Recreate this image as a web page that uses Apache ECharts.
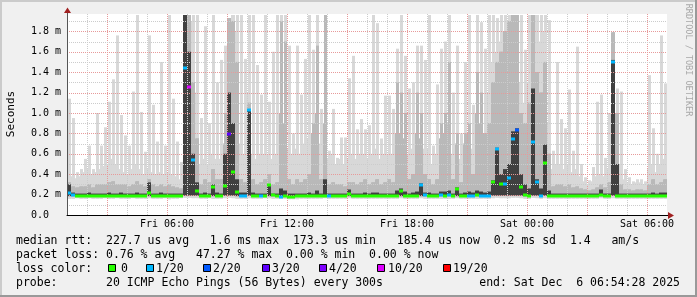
<!DOCTYPE html>
<html><head><meta charset="utf-8">
<script src="https://cdn.jsdelivr.net/npm/echarts@6/dist/echarts.min.js"></script>
<style>html,body{margin:0;padding:0;background:#f0f0f0;}#c{width:697px;height:297px;}</style>
</head><body><div id="c"></div>
<script>
// ---- time axis (minutes since Fri 00:00) ----
const startMinute = 60;
const endMinute = 1860;
const stepMinutes = 12;
const xLabelMinutes = [360, 720, 1080, 1440, 1800];
const xLabels = ['Fri 06:00', 'Fri 12:00', 'Fri 18:00', 'Sat 00:00', 'Sat 06:00'];
const yMax = 1.97;
const yLabelValues = [0, 0.2, 0.4, 0.6, 0.8, 1.0, 1.2, 1.4, 1.6, 1.8];
const yLabels = ['0.0', '0.2 m', '0.4 m', '0.6 m', '0.8 m', '1.0 m', '1.2 m', '1.4 m', '1.6 m', '1.8 m'];

// ---- smoke (ms), one value per 12-minute column ----
// highest ping (light spikes)
const smokeTop = [
 1.14,0.95,0.42,0.45,0.55,0.68,0.45,1.00,0.68,0.86,
 1.11,1.33,1.76,0.98,0.78,0.68,1.21,1.96,1.01,0.62,
 1.76,1.08,0.72,1.50,0.68,1.96,1.14,0.72,0.52,1.96,
 1.96,1.96,1.96,0.95,1.85,0.90,1.96,1.30,1.52,1.66,
 1.93,1.96,1.96,1.96,1.53,1.96,1.96,1.47,1.18,1.96,
 1.11,1.60,1.96,1.96,1.96,1.66,0.80,1.66,1.18,1.53,
 1.96,1.62,1.96,1.04,1.96,0.63,1.04,0.56,0.76,0.76,
 1.34,1.56,0.84,0.94,0.84,0.88,1.96,1.88,0.75,1.17,
 1.17,1.04,1.63,1.96,1.56,1.24,1.30,1.66,1.66,1.52,
 1.96,0.68,1.28,1.63,1.70,1.96,1.20,1.66,0.80,1.50,
 1.96,1.08,1.96,1.89,1.63,1.96,1.96,1.93,1.96,1.96,
 1.96,1.96,1.96,1.96,1.62,1.96,1.96,1.96,1.96,1.96,
 1.91,0.63,1.50,0.94,0.85,1.23,0.63,1.65,0.50,0.37,
 0.34,0.47,1.11,1.18,0.56,1.00,1.79,1.24,1.21,0.45,
 0.37,0.33,0.35,0.35,0.33,1.37,0.85,0.60,1.76,1.29];
// level up to which the whole column is covered by light smoke
const smokeFill = [
 0.45,0.38,0.36,0.38,0.42,0.45,0.40,0.42,0.45,0.48,
 0.50,0.55,0.50,0.45,0.42,0.40,0.45,0.50,0.45,0.40,
 0.45,0.42,0.40,0.42,0.40,0.42,0.40,0.38,0.35,1.96,
 1.96,1.90,1.20,0.50,0.55,0.50,0.60,0.55,0.55,0.70,
 1.93,1.96,1.80,0.70,0.60,1.20,0.60,0.55,0.60,0.60,
 0.60,0.55,0.60,1.00,0.90,0.65,0.60,0.65,0.60,0.70,
 0.75,0.80,1.00,0.70,0.90,0.55,0.60,0.50,0.55,0.50,
 0.55,0.60,0.55,0.60,0.60,0.55,0.60,0.65,0.55,0.60,
 0.60,0.60,0.80,0.80,0.75,0.60,0.65,0.80,0.75,0.65,
 0.65,0.50,0.60,0.75,0.80,0.90,0.60,0.70,0.55,0.70,
 0.80,0.65,1.00,0.90,0.80,1.20,1.50,1.60,1.70,1.80,
 1.90,1.96,1.96,1.30,1.10,1.30,1.96,1.96,1.70,1.80,
 0.90,0.45,0.50,0.50,0.45,0.50,0.42,0.45,0.38,0.33,
 0.30,0.33,0.38,0.40,0.38,0.45,1.79,1.00,0.50,0.35,
 0.32,0.30,0.32,0.32,0.30,0.45,0.50,0.42,0.50,0.55];
// medium-grey smoke top
const smokeMid = [
 0.32,0.28,0.27,0.28,0.28,0.30,0.27,0.30,0.30,0.30,
 0.32,0.33,0.30,0.30,0.30,0.28,0.30,0.33,0.30,0.28,
 0.35,0.30,0.28,0.30,0.28,0.30,0.28,0.27,0.26,1.96,
 1.96,1.30,0.75,0.30,0.35,0.32,0.45,0.35,0.35,1.00,
 1.93,1.90,1.50,0.35,0.32,1.10,0.35,0.30,0.32,0.35,
 0.40,0.30,0.32,1.90,1.70,0.35,0.30,0.35,0.32,0.35,
 0.40,0.90,1.66,0.35,1.96,0.30,0.32,0.30,0.30,0.28,
 0.32,0.32,0.30,0.32,0.35,0.30,0.32,0.35,0.30,0.32,
 0.35,0.32,1.30,1.20,1.00,0.35,0.40,1.20,1.00,0.40,
 0.35,0.30,0.35,0.90,1.00,1.50,0.35,0.80,0.32,0.80,
 0.90,0.40,1.40,1.20,0.80,0.90,1.30,1.50,1.60,1.80,
 1.90,1.96,1.96,1.00,0.90,1.10,1.96,1.40,1.20,1.50,
 0.60,0.28,0.30,0.30,0.28,0.30,0.27,0.28,0.26,0.25,
 0.24,0.25,0.27,0.30,0.27,0.32,1.79,1.00,0.30,0.25,
 0.25,0.24,0.25,0.25,0.24,0.30,0.35,0.30,0.32,0.35];
// dark core top
const smokeDark = [
 0.30,0.22,0.21,0.21,0.21,0.22,0.21,0.21,0.21,0.21,
 0.22,0.21,0.21,0.22,0.21,0.21,0.21,0.22,0.21,0.21,
 0.32,0.21,0.21,0.22,0.21,0.21,0.21,0.21,0.21,1.96,
 1.60,0.60,0.32,0.21,0.22,0.21,0.30,0.22,0.21,0.60,
 1.20,0.90,0.35,0.22,0.22,1.03,0.22,0.21,0.21,0.21,
 0.30,0.21,0.21,0.26,0.24,0.21,0.21,0.21,0.21,0.21,
 0.22,0.21,0.24,0.21,0.35,0.21,0.21,0.21,0.21,0.21,
 0.25,0.21,0.21,0.21,0.22,0.21,0.22,0.22,0.21,0.21,
 0.21,0.21,0.24,0.26,0.23,0.21,0.22,0.23,0.31,0.22,
 0.22,0.21,0.21,0.23,0.23,0.24,0.21,0.27,0.21,0.22,
 0.23,0.22,0.24,0.23,0.22,0.23,0.34,0.66,0.40,0.45,
 0.50,0.82,0.85,0.40,0.30,0.26,1.24,0.35,0.26,0.69,
 0.24,0.21,0.21,0.21,0.21,0.21,0.21,0.21,0.21,0.21,
 0.21,0.21,0.21,0.25,0.21,0.21,1.52,0.50,0.21,0.21,
 0.21,0.21,0.21,0.21,0.21,0.21,0.22,0.21,0.22,0.22];
// bottom of the dense smoke core
const smokeCore = [
 0.185,0.185,0.185,0.185,0.185,0.185,0.185,0.185,0.185,0.185,
 0.185,0.185,0.185,0.185,0.185,0.185,0.185,0.185,0.185,0.185,
 0.185,0.185,0.185,0.185,0.185,0.18,0.185,0.185,0.185,0.19,
 0.19,0.19,0.19,0.185,0.185,0.185,0.185,0.185,0.185,0.19,
 0.19,0.19,0.185,0.185,0.185,0.19,0.185,0.185,0.185,0.185,
 0.185,0.185,0.185,0.18,0.185,0.18,0.18,0.18,0.185,0.185,
 0.185,0.185,0.185,0.185,0.185,0.185,0.185,0.185,0.185,0.185,
 0.185,0.185,0.185,0.185,0.185,0.185,0.185,0.185,0.185,0.185,
 0.185,0.185,0.185,0.185,0.185,0.185,0.185,0.185,0.185,0.185,
 0.185,0.185,0.185,0.185,0.185,0.185,0.185,0.185,0.185,0.185,
 0.185,0.185,0.185,0.185,0.185,0.185,0.19,0.19,0.19,0.19,
 0.19,0.19,0.19,0.19,0.185,0.185,0.19,0.19,0.185,0.19,
 0.185,0.185,0.185,0.185,0.185,0.185,0.185,0.185,0.185,0.185,
 0.185,0.185,0.185,0.185,0.185,0.185,0.19,0.185,0.185,0.185,
 0.185,0.185,0.185,0.185,0.185,0.185,0.185,0.185,0.185,0.185];
// lowest ping
const smokeLow = [
 0.16,0.16,0.165,0.16,0.16,0.165,0.16,0.16,0.16,0.165,
 0.16,0.16,0.165,0.16,0.16,0.16,0.165,0.16,0.16,0.16,
 0.165,0.16,0.16,0.16,0.165,0.155,0.16,0.16,0.165,0.17,
 0.17,0.165,0.165,0.16,0.16,0.165,0.16,0.16,0.16,0.165,
 0.17,0.165,0.16,0.16,0.16,0.165,0.16,0.16,0.16,0.165,
 0.165,0.16,0.16,0.16,0.16,0.155,0.155,0.155,0.16,0.16,
 0.16,0.16,0.16,0.16,0.165,0.16,0.16,0.16,0.16,0.16,
 0.165,0.16,0.16,0.16,0.16,0.16,0.16,0.16,0.16,0.16,
 0.16,0.16,0.16,0.165,0.16,0.16,0.16,0.16,0.165,0.16,
 0.16,0.16,0.16,0.16,0.16,0.16,0.16,0.165,0.16,0.16,
 0.16,0.16,0.16,0.16,0.16,0.16,0.165,0.17,0.165,0.165,
 0.165,0.17,0.17,0.165,0.16,0.16,0.17,0.165,0.16,0.165,
 0.16,0.16,0.16,0.16,0.16,0.16,0.16,0.16,0.16,0.16,
 0.16,0.16,0.16,0.165,0.16,0.16,0.165,0.16,0.16,0.16,
 0.16,0.16,0.16,0.16,0.16,0.16,0.16,0.16,0.16,0.16];
const medianRtt = [
 0.22,0.20,0.19,0.19,0.19,0.19,0.19,0.19,0.19,0.19,
 0.19,0.19,0.19,0.19,0.19,0.19,0.19,0.19,0.19,0.19,
 0.22,0.19,0.19,0.19,0.19,0.185,0.19,0.19,0.19,1.44,
 1.25,0.54,0.24,0.19,0.19,0.19,0.27,0.19,0.19,0.28,
 0.79,0.42,0.23,0.19,0.19,1.03,0.19,0.19,0.19,0.19,
 0.29,0.20,0.19,0.18,0.19,0.18,0.18,0.185,0.19,0.19,
 0.19,0.19,0.19,0.19,0.19,0.19,0.19,0.19,0.19,0.19,
 0.21,0.19,0.19,0.19,0.19,0.19,0.19,0.19,0.19,0.19,
 0.19,0.19,0.19,0.24,0.19,0.19,0.19,0.19,0.29,0.20,
 0.19,0.19,0.19,0.20,0.19,0.20,0.19,0.25,0.19,0.19,
 0.19,0.19,0.20,0.19,0.19,0.19,0.32,0.65,0.30,0.30,
 0.36,0.74,0.83,0.27,0.20,0.19,0.72,0.32,0.19,0.51,
 0.19,0.19,0.19,0.19,0.19,0.19,0.19,0.19,0.19,0.19,
 0.19,0.19,0.19,0.20,0.19,0.19,1.50,0.19,0.19,0.19,
 0.19,0.19,0.19,0.19,0.19,0.19,0.19,0.19,0.19,0.19];
const lostPings = [
 1,1,0,0,0,0,0,0,0,0,
 0,0,0,0,0,0,0,0,0,0,
 0,0,0,0,0,0,0,0,0,1,
 10,1,0,0,0,0,0,0,0,0,
 3,0,0,1,1,1,0,0,1,0,
 0,0,0,1,0,0,0,0,0,0,
 0,0,0,0,0,1,0,0,0,0,
 0,0,0,0,0,0,0,0,0,0,
 0,0,0,0,0,0,0,0,1,1,
 0,0,0,1,0,1,0,0,0,0,
 1,1,0,1,1,1,0,1,0,1,
 1,1,2,0,0,0,1,1,1,0,
 0,0,0,0,0,0,0,0,0,0,
 0,0,0,0,0,0,1,0,0,0,
 0,0,0,0,0,0,0,0,0,0];

// ---- legend ----
const lossCounts = [0, 1, 2, 3, 4, 10, 19];
const lossLabels = ['0', '1/20', '2/20', '3/20', '4/20', '10/20', '19/20'];
const lossColors = ['#26ff00', '#00b8ff', '#0059ff', '#5e00ff', '#7e00ff', '#dd00ff', '#ff0000'];
const legendLines = [
  'median rtt:  227.7 us avg   1.6 ms max  173.3 us min   185.4 us now  0.2 ms sd  1.4   am/s',
  'packet loss: 0.76 % avg   47.27 % max  0.00 % min  0.00 % now',
  'loss color:',
  'probe:       20 ICMP Echo Pings (56 Bytes) every 300s'
];
const endText = 'end: Sat Dec  6 06:54:28 2025';

// ---- styles / layout ----
const MONO = '"DejaVu Sans Mono", monospace';
const C_LIGHT = '#d8d8d8', C_MID = '#b9b9b9', C_DARK = '#404040';
const GRID_MINOR = '#cccccc', GRID_MAJOR = '#e79a9a';
const legendY = [241, 255.5, 269, 283];
const boxX = [108, 146, 203, 262, 319, 377, 443];
const boxLabelX = [121, 156, 213, 272, 329, 388, 453];

function lossColor(n) {
  let c = lossColors[0];
  for (let i = 0; i < lossCounts.length; i++) if (n >= lossCounts[i]) c = lossColors[i];
  return c;
}

const smokeData = smokeTop.map((v, i) => [startMinute + i * stepMinutes, smokeLow[i], smokeCore[i], smokeDark[i], smokeMid[i], smokeFill[i], v]);
const medianData = medianRtt.map((v, i) => [startMinute + i * stepMinutes, v, lostPings[i]]);
const vGrid = [];
for (let m = startMinute + 60; m < endMinute; m += 60) vGrid.push([m, 0, m % 180 === 0 ? 1 : 0]);
const hGrid = [];
for (let k = 1; k <= 19; k++) hGrid.push([startMinute, k / 10, k % 2 === 0 ? 1 : 0]);

function renderSmoke(params, api) {
  const t = api.value(0);
  const x = api.coord([t, 0])[0];
  const w = api.coord([t + stepMinutes, 0])[0] - x;
  const Y = v => api.coord([t, v])[1];
  const r = (a, b, fill, narrow) => ({ type: 'rect',
    shape: { x: narrow ? x + 1 : x, y: Y(b), width: narrow ? w - 1 : w, height: Y(a) - Y(b) },
    style: { fill: fill } });
  const low = api.value(1), core = api.value(2), dark = api.value(3), mid = api.value(4), fill = api.value(5), top = api.value(6);
  return { type: 'group', children: [
    r(low, fill, C_LIGHT, false),
    r(low, top, C_LIGHT, true),
    r(core, Math.min(mid, fill), C_MID, false),
    r(core, mid, C_MID, true),
    r(core, dark, C_DARK, false)
  ] };
}
function renderMedian(params, api) {
  const t = api.value(0);
  const x = api.coord([t, 0])[0];
  const w = api.coord([t + stepMinutes, 0])[0] - x;
  const y = api.coord([t, api.value(1)])[1];
  return { type: 'rect', shape: { x: x, y: Math.round(y) - 1.5, width: w, height: 3 }, style: { fill: lossColor(api.value(2)) } };
}
function renderVGrid(params, api) {
  const cs = params.coordSys;
  const x = Math.round(api.coord([api.value(0), 0])[0]) + 0.5;
  return { type: 'line', shape: { x1: x, y1: cs.y, x2: x, y2: cs.y + cs.height }, style: { stroke: api.value(2) ? GRID_MAJOR : GRID_MINOR, lineWidth: 1, lineDash: [1, 1] } };
}
function renderHGrid(params, api) {
  const cs = params.coordSys;
  const y = Math.round(api.coord([startMinute, api.value(1)])[1]) + 0.5;
  return { type: 'line', shape: { x1: cs.x, y1: y, x2: cs.x + cs.width, y2: y }, style: { stroke: api.value(2) ? GRID_MAJOR : GRID_MINOR, lineWidth: 1, lineDash: [1, 1] } };
}

const graphics = [
  { type: 'rect', shape: { x: 0, y: 0, width: 697, height: 2 }, style: { fill: '#cbcbcb' }, silent: true },
  { type: 'rect', shape: { x: 0, y: 0, width: 2, height: 297 }, style: { fill: '#cbcbcb' }, silent: true },
  { type: 'rect', shape: { x: 0, y: 295, width: 697, height: 2 }, style: { fill: '#999999' }, silent: true },
  { type: 'rect', shape: { x: 695, y: 0, width: 2, height: 297 }, style: { fill: '#999999' }, silent: true },
  { type: 'line', shape: { x1: 67.5, y1: 14, x2: 67.5, y2: 10 }, style: { stroke: '#555', lineWidth: 1 }, silent: true },
  { type: 'polygon', shape: { points: [[64, 13], [71, 13], [67.5, 7.5]] }, style: { fill: '#a02020' }, silent: true },
  { type: 'line', shape: { x1: 667, y1: 215.5, x2: 669, y2: 215.5 }, style: { stroke: '#000', lineWidth: 1 }, silent: true },
  { type: 'polygon', shape: { points: [[668, 212], [668, 219], [674, 215.5]] }, style: { fill: '#a02020' }, silent: true },
  { type: 'text', x: 11, y: 114, rotation: Math.PI / 2, style: { text: 'Seconds', font: '11px ' + MONO, fill: '#000', align: 'center', verticalAlign: 'middle', textAlign: 'center', textVerticalAlign: 'middle' }, silent: true },
  { type: 'text', x: 688, y: 60, rotation: -Math.PI / 2, style: { text: 'RRDTOOL / TOBI OETIKER', font: '8.5px ' + MONO, fill: '#a8a8a8', align: 'center', verticalAlign: 'middle', textAlign: 'center', textVerticalAlign: 'middle' }, silent: true }
];
legendLines.forEach((t, i) => graphics.push({ type: 'text', x: 16, y: legendY[i], style: { text: t, font: '11.5px ' + MONO, fill: '#000', align: 'left', verticalAlign: 'middle', textAlign: 'left', textVerticalAlign: 'middle' }, silent: true }));
graphics.push({ type: 'text', x: 680, y: legendY[3], style: { text: endText, font: '11.5px ' + MONO, fill: '#000', align: 'right', verticalAlign: 'middle', textAlign: 'right', textVerticalAlign: 'middle' }, silent: true });
lossLabels.forEach((lab, i) => {
  graphics.push({ type: 'rect', shape: { x: boxX[i] + 0.5, y: 264.5, width: 7, height: 7 }, style: { fill: lossColors[i], stroke: '#000', lineWidth: 1 }, silent: true });
  graphics.push({ type: 'text', x: boxLabelX[i], y: legendY[2], style: { text: lab, font: '11.5px ' + MONO, fill: '#000', align: 'left', verticalAlign: 'middle', textAlign: 'left', textVerticalAlign: 'middle' }, silent: true });
});

const chart = echarts.init(document.getElementById('c'), null, { renderer: 'canvas' });
chart.setOption({
  animation: false,
  backgroundColor: '#f0f0f0',
  grid: { left: 67, top: 14, width: 600, height: 201, show: true, backgroundColor: '#ffffff', borderWidth: 0 },
  xAxis: {
    type: 'value', min: startMinute, max: endMinute, interval: 60, z: 5,
    axisLine: { show: true, lineStyle: { color: '#000', width: 1 } },
    axisTick: { show: false }, splitLine: { show: false },
    axisLabel: { margin: 4, fontFamily: MONO, fontSize: 10, color: '#000',
      formatter: v => { const i = xLabelMinutes.indexOf(Math.round(v)); return i >= 0 ? xLabels[i] : ''; } }
  },
  yAxis: {
    type: 'value', min: 0, max: yMax, interval: 0.2, z: 5,
    axisLine: { show: true, lineStyle: { color: '#555', width: 1 } },
    axisTick: { show: false }, splitLine: { show: false },
    axisLabel: { margin: 36, align: 'left', fontFamily: MONO, fontSize: 10, color: '#000',
      formatter: v => { const i = yLabelValues.findIndex(y => Math.abs(y - v) < 1e-6); return i >= 0 ? yLabels[i] : ''; } }
  },
  series: [
    { type: 'custom', name: 'smoke', renderItem: renderSmoke, data: smokeData, encode: { x: 0, y: 6 }, z: 2, clip: true, silent: true },
    { type: 'custom', name: 'vgrid', renderItem: renderVGrid, data: vGrid, encode: { x: 0, y: 1 }, z: 3, silent: true },
    { type: 'custom', name: 'hgrid', renderItem: renderHGrid, data: hGrid, encode: { x: 0, y: 1 }, z: 3, silent: true },
    { type: 'custom', name: 'median', renderItem: renderMedian, data: medianData, encode: { x: 0, y: 1 }, z: 4, clip: true, silent: true }
  ],
  graphic: graphics
});
</script></body></html>
